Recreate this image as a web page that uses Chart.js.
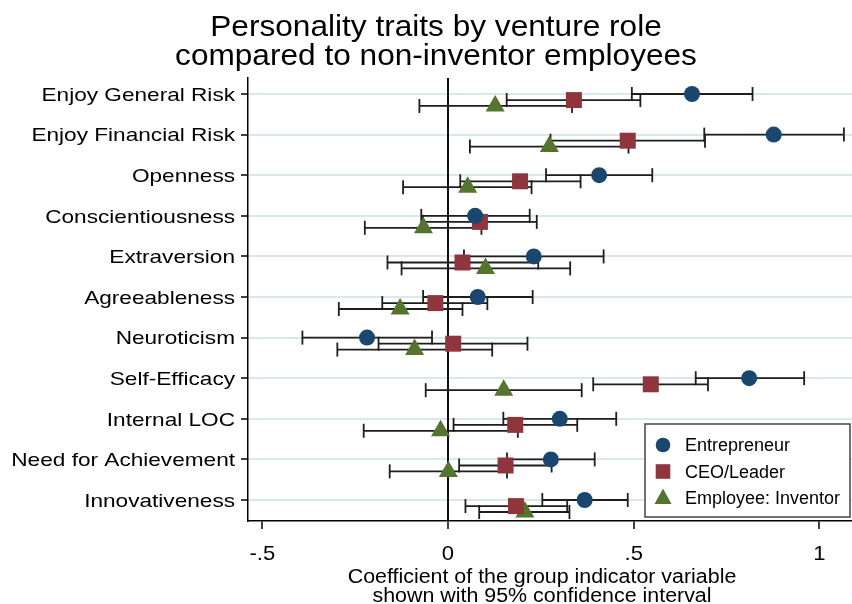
<!DOCTYPE html>
<html>
<head>
<meta charset="utf-8">
<script src="https://cdn.jsdelivr.net/npm/chart.js@4.4.1/dist/chart.umd.min.js"></script>
<style>
  html, body { margin: 0; background: #fff; overflow: hidden; }
  canvas { display: block; }
</style>
</head>
<body>
<canvas id="graph" width="852" height="604"></canvas>
<script>
const categories = ['Enjoy General Risk', 'Enjoy Financial Risk', 'Openness', 'Conscientiousness',
  'Extraversion', 'Agreeableness', 'Neuroticism', 'Self-Efficacy', 'Internal LOC',
  'Need for Achievement', 'Innovativeness']

// point estimates and 95% CI bounds
const entEst = [0.657, 0.877, 0.407, 0.073, 0.231, 0.080, -0.218, 0.811, 0.301, 0.277, 0.368]
const entLo = [0.495, 0.690, 0.264, -0.072, 0.043, -0.067, -0.392, 0.667, 0.149, 0.159, 0.254]
const entHi = [0.820, 1.066, 0.550, 0.220, 0.419, 0.228, -0.043, 0.959, 0.453, 0.395, 0.484]

const ceoEst = [0.339, 0.484, 0.194, 0.086, 0.039, -0.034, 0.014, 0.546, 0.181, 0.155, 0.183]
const ceoLo = [0.158, 0.276, 0.033, -0.067, -0.163, -0.177, -0.187, 0.391, 0.015, 0.030, 0.047]
const ceoHi = [0.518, 0.692, 0.357, 0.239, 0.243, 0.106, 0.214, 0.700, 0.348, 0.279, 0.321]

const invEst = [0.127, 0.273, 0.053, -0.066, 0.101, -0.129, -0.090, 0.150, -0.020, 0.001, 0.207]
const invLo = [-0.077, 0.059, -0.121, -0.224, -0.125, -0.294, -0.298, -0.060, -0.227, -0.157, 0.084]
const invHi = [0.334, 0.486, 0.225, 0.090, 0.329, 0.039, 0.119, 0.360, 0.188, 0.159, 0.327]

const xTicks = [-0.5, 0, 0.5, 1]
const xTickLabels = ['-.5', '0', '.5', '1']
const seriesNames = ['Entrepreneur', 'CEO/Leader', 'Employee: Inventor']

const titleLines = ['Personality traits by venture role', 'compared to non-inventor employees']
const xTitleLines = ['Coefficient of the group indicator variable', 'shown with 95% confidence interval']

const colors = ['#1a476f', '#90353b', '#55752f']
const offsets = [0, 0.15, 0.295]
const FONT = '"Liberation Sans", Arial, sans-serif'

const markerSet = (label, est, off, color, style, radius) => ({
  type: 'scatter',
  label: label,
  data: est.map((v, i) => ({ x: v, y: i + off })),
  pointStyle: style,
  pointRadius: radius,
  pointBackgroundColor: color,
  pointBorderColor: color,
  pointBorderWidth: 0,
  order: 0
})

const ciSet = (lo, hi, off) => {
  const pts = []
  lo.forEach((v, i) => {
    pts.push({ x: v, y: i + off })
    pts.push({ x: hi[i], y: i + off })
    pts.push({ x: NaN, y: NaN })
  })
  return {
    type: 'scatter',
    showLine: true,
    spanGaps: false,
    data: pts,
    borderColor: '#1e1e1e',
    borderWidth: 1.8,
    pointStyle: 'line',
    pointRotation: 90,
    pointRadius: 7,
    pointBorderColor: '#1e1e1e',
    pointBorderWidth: 1.8,
    order: 1
  }
}

const stretchText = (ctx, text, x, y, size, sx, align) => {
  ctx.save()
  ctx.font = size + 'px ' + FONT
  ctx.fillStyle = '#000'
  ctx.textBaseline = 'alphabetic'
  ctx.textAlign = align
  ctx.translate(x, y)
  ctx.scale(sx, 1)
  ctx.fillText(text, 0, 0)
  ctx.restore()
}

const textPlugin = {
  id: 'stataText',
  afterDraw(chart) {
    const ctx = chart.ctx
    const xs = chart.scales.x
    const ys = chart.scales.y
    const area = chart.chartArea

    stretchText(ctx, titleLines[0], 436, 36, 29, 1.09, 'center')
    stretchText(ctx, titleLines[1], 436, 65, 29, 1.09, 'center')

    categories.forEach((c, i) => {
      stretchText(ctx, c, area.left - 13, ys.getPixelForValue(i) + 6.8, 19, 1.19, 'right')
    })

    xTicks.forEach((v, i) => {
      stretchText(ctx, xTickLabels[i], xs.getPixelForValue(v), area.bottom + 39, 21, 1.05, 'center')
    })

    stretchText(ctx, xTitleLines[0], 542, 583, 20, 1.07, 'center')
    stretchText(ctx, xTitleLines[1], 542, 602, 20, 1.07, 'center')
  }
}

const legendPlugin = {
  id: 'stataLegend',
  afterDatasetsDraw(chart) {
    const ctx = chart.ctx
    const area = chart.chartArea
    const bx = area.right - 207
    const by = area.bottom - 97
    ctx.save()
    ctx.fillStyle = '#fff'
    ctx.fillRect(bx, by, 205, 93)
    ctx.strokeStyle = '#444'
    ctx.lineWidth = 1.5
    ctx.strokeRect(bx, by, 205, 93)

    const mx = bx + 18
    seriesNames.forEach((name, k) => {
      const cy = by + 21 + k * 26.5
      ctx.fillStyle = colors[k]
      ctx.beginPath()
      if (k === 0) {
        ctx.arc(mx, cy, 7.3, 0, Math.PI * 2)
      } else if (k === 1) {
        ctx.rect(mx - 7.3, cy - 7.3, 14.6, 14.6)
      } else {
        ctx.moveTo(mx, cy - 9.5)
        ctx.lineTo(mx + 8.5, cy + 6)
        ctx.lineTo(mx - 8.5, cy + 6)
        ctx.closePath()
      }
      ctx.fill()
      stretchText(ctx, name, bx + 40, cy + 6.4, 18, 1.0, 'left')
    })
    ctx.restore()
  }
}

const graph = document.getElementById('graph')

const myChart = new Chart(graph, {
  data: {
    datasets: [
      markerSet(seriesNames[0], entEst, offsets[0], colors[0], 'circle', 8),
      markerSet(seriesNames[1], ceoEst, offsets[1], colors[1], 'rect', 11.3),
      markerSet(seriesNames[2], invEst, offsets[2], colors[2], 'triangle', 11),
      ciSet(entLo, entHi, offsets[0]),
      ciSet(ceoLo, ceoHi, offsets[1]),
      ciSet(invLo, invHi, offsets[2])
    ]
  },
  options: {
    responsive: false,
    animation: false,
    devicePixelRatio: 1,
    layout: { autoPadding: false, padding: { top: 78, left: 0, right: 0, bottom: 0 } },
    plugins: {
      legend: { display: false },
      tooltip: { enabled: false },
      title: { display: false }
    },
    scales: {
      y: {
        type: 'linear',
        reverse: true,
        min: -0.394,
        max: 10.517,
        afterBuildTicks: (scale) => { scale.ticks = categories.map((c, i) => ({ value: i })) },
        afterFit: (scale) => { scale.width = 248 },
        ticks: { display: false },
        grid: {
          color: '#d8e8ec',
          lineWidth: 2,
          tickColor: '#000',
          tickLength: 7,
          tickWidth: 1.5
        },
        border: { color: '#000', width: 1.5 }
      },
      x: {
        type: 'linear',
        min: -0.5385,
        max: 1.0878,
        afterBuildTicks: (scale) => { scale.ticks = xTicks.map(v => ({ value: v })) },
        afterFit: (scale) => { scale.height = 83 },
        ticks: { display: false },
        grid: {
          color: (c) => (c.tick && c.tick.value === 0 ? '#111' : 'rgba(0,0,0,0)'),
          lineWidth: 2,
          tickColor: '#000',
          tickLength: 8,
          tickWidth: 1.5
        },
        border: { color: '#000', width: 1.5 }
      }
    }
  },
  plugins: [legendPlugin, textPlugin]
})
</script>
</body>
</html>
